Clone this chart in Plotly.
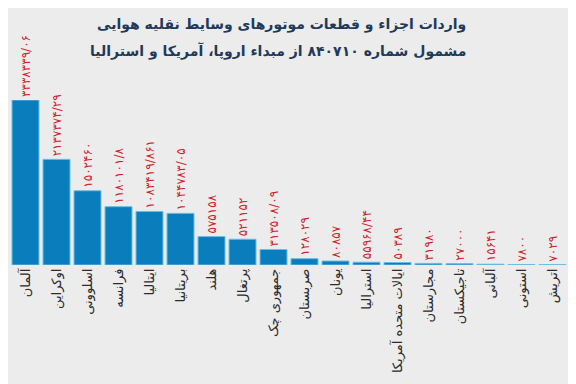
import plotly.graph_objects as go

countries = ["آلمان", "اوکراین", "اسلوونی", "فرانسه", "ایتالیا", "بریتانیا", "هلند", "پرتغال",
             "جمهوری چک", "صربستان", "یونان", "استرالیا", "ایالات متحده آمریکا", "مجارستان",
             "تاجیکستان", "آلبانی", "استونی", "اتریش"]
values = [3338339.06, 2137374.29, 1502460, 1180101.8, 1083419.861, 1044783.05, 575158, 521152,
          313508.09, 128029, 80857, 55968.44, 50389, 31980, 27000, 15641, 7800, 7029]
title_lines = ["واردات اجزاء و قطعات موتورهای وسایط نقلیه هوایی",
               "مشمول شماره ۸۴۰۷۱۰ از مبداء اروپا، آمریکا و استرالیا"]

fa_digits = str.maketrans("0123456789.", "۰۱۲۳۴۵۶۷۸۹/")


def fa(v):
    s = str(int(v)) if float(v).is_integer() else repr(float(v))
    return s.translate(fa_digits)


labels = [fa(v) for v in values]

fig = go.Figure(go.Bar(
    x=countries, y=values, text=labels, textposition="outside", textangle=-90,
    cliponaxis=False, constraintext="none",
    textfont=dict(color="#d01f2e", size=12, family="DejaVu Sans"),
    marker=dict(color="#0a7dbd", line=dict(color="#6bbce6", width=1)),
))

fig.update_layout(
    width=576, height=384,
    margin=dict(l=2, r=16, t=92, b=127, autoexpand=False),
    paper_bgcolor="#ececec", plot_bgcolor="#ececec",
    bargap=0.13, showlegend=False,
    font=dict(family="DejaVu Sans"),
    xaxis=dict(tickangle=-90, tickfont=dict(size=13, color="#2b2b2b"), showgrid=False,
               showline=False, ticks="", automargin=False),
    yaxis=dict(visible=False, range=[0, max(values)], automargin=False),
)
for ypos, line in zip([1.455, 1.298], title_lines):
    fig.add_annotation(text="<b>" + line + "</b>", xref="paper", yref="paper", x=0.821, y=ypos,
                       xanchor="right", yanchor="middle", showarrow=False,
                       font=dict(size=14, color="#1e3a5a", family="DejaVu Sans"))

fig.write_html("out.html")
